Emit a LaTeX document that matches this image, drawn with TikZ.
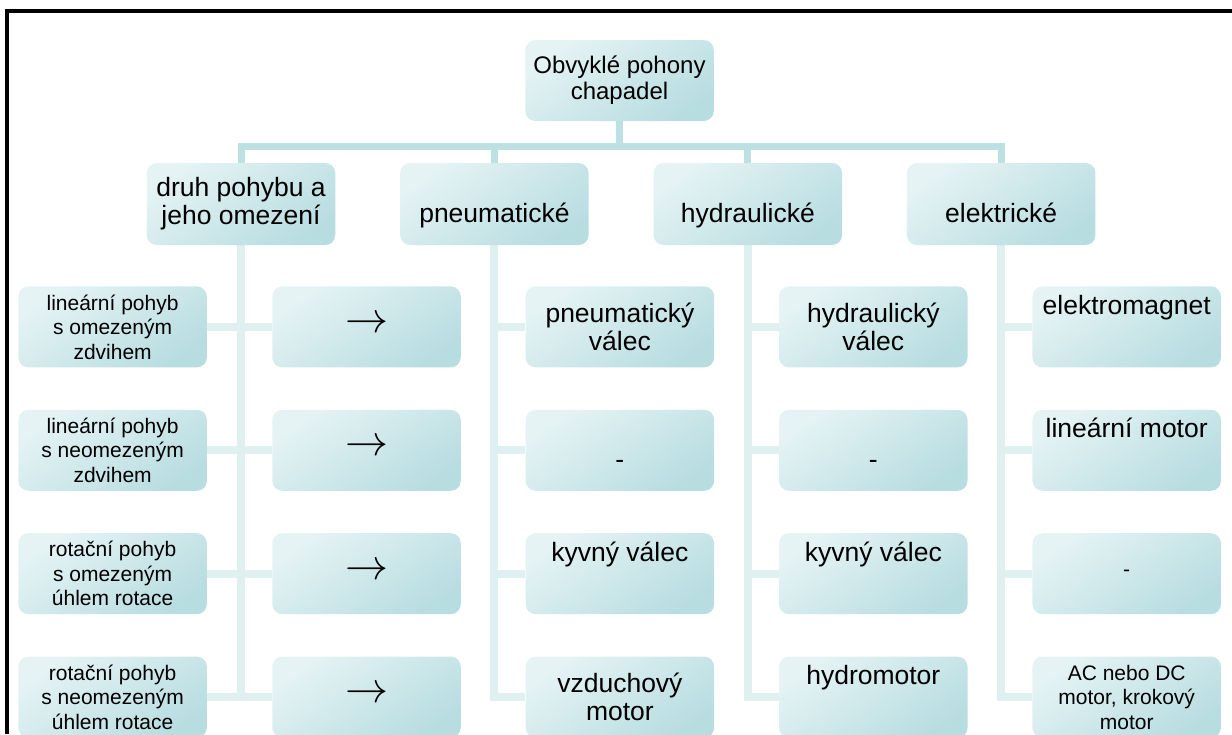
\documentclass[tikz,border=0pt]{standalone}
\usepackage{fontspec}
\setmainfont{Liberation Sans}
\usepackage{tikz}
\usetikzlibrary{positioning, backgrounds, calc}
\definecolor{barteal}{RGB}{189,224,227}
\definecolor{linkteal}{RGB}{223,240,241}
\definecolor{boxlight}{RGB}{229,243,244}
\definecolor{boxdark}{RGB}{184,221,225}
\tikzstyle{box} = [rectangle, rounded corners=10pt, minimum width=188.5pt, minimum height=81pt, align=center, inner sep=2pt, top color=boxlight, bottom color=boxdark, shading angle=35]
\tikzstyle{rootbox} = [box, font=\fontsize{24}{26}\selectfont]
\tikzstyle{catbox} = [box, minimum height=82pt, font=\fontsize{26.5}{28}\selectfont]
\tikzstyle{leafbox} = [box, font=\fontsize{26.5}{28}\selectfont]
\tikzstyle{notebox} = [box, font=\fontsize{21}{24.5}\selectfont]
\tikzstyle{arrowbox} = [box, font=\fontsize{10}{12}\selectfont, text height=11pt, text depth=0pt]
\tikzstyle{sunk} = [text height=36pt, text depth=0pt]
\tikzstyle{lifted} = [text height=8pt, text depth=33pt]
\tikzstyle{trunk} = [line width=7pt, draw=barteal]
\tikzstyle{branch} = [line width=8pt, draw=linkteal]
\newcommand{\bigto}{\scalebox{4.3}{$\rightarrow$}}

\begin{document}
\begin{tikzpicture}[x=1pt, y=-1pt, node distance=42pt]

\useasboundingbox (0,0) rectangle (1232,734);

\node (root) [rootbox] at (619.5,80.5) {Obvyklé pohony\\chapadel};

\node (druh) [catbox] at (241,204) {druh pohybu a\\jeho omezení};
\node (pneu) [catbox, sunk, right=64.5pt of druh] {pneumatické};
\node (hydr) [catbox, sunk, right=64.5pt of pneu] {hydraulické};
\node (elek) [catbox, sunk, right=64.5pt of hydr] {elektrické};

\node (ar1) [arrowbox, below=41pt of druh, xshift=125.5pt] {\bigto};
\node (ar2) [arrowbox, below=of ar1] {\bigto};
\node (ar3) [arrowbox, below=of ar2] {\bigto};
\node (ar4) [arrowbox, below=of ar3] {\bigto};

\node (lp1) [notebox, left=65pt of ar1] {lineární pohyb\\s omezeným\\zdvihem};
\node (lp2) [notebox, left=65pt of ar2] {lineární pohyb\\s neomezeným\\zdvihem};
\node (lp3) [notebox, left=65pt of ar3] {rotační pohyb\\s omezeným\\úhlem rotace};
\node (lp4) [notebox, left=65pt of ar4] {rotační pohyb\\s neomezeným\\úhlem rotace};

\node (pn1) [leafbox, below=41pt of pneu, xshift=125.5pt] {pneumatický\\válec};
\node (pn2) [leafbox, sunk, below=of pn1] {-};
\node (pn3) [leafbox, lifted, below=of pn2] {kyvný válec};
\node (pn4) [leafbox, below=of pn3] {vzduchový\\motor};

\node (hy1) [leafbox, below=41pt of hydr, xshift=125.5pt] {hydraulický\\válec};
\node (hy2) [leafbox, sunk, below=of hy1] {-};
\node (hy3) [leafbox, lifted, below=of hy2] {kyvný válec};
\node (hy4) [leafbox, lifted, below=of hy3] {hydromotor};

\node (el1) [leafbox, lifted, below=41pt of elek, xshift=125.5pt] {elektromagnet};
\node (el2) [leafbox, lifted, below=of el1] {lineární motor};
\node (el3) [notebox, below=of el2] {-};
\node (el4) [notebox, below=of el3] {AC nebo DC\\motor, krokový\\motor};

% connectors behind the boxes
\begin{scope}[on background layer]
\coordinate (hub) at ($(root.south)+(0,25.5)$);
\draw[trunk] (root.south) -- (hub);
\draw[trunk] (druh.north) |- (hub) -| (elek.north);
\draw[trunk] (pneu.north) -- (pneu.north |- hub);
\draw[trunk] (hydr.north) -- (hydr.north |- hub);

\draw[branch] (druh.south) -- (druh.south |- lp4.east);
\draw[branch] (lp1.east) -- (ar1.west);
\draw[branch] (lp2.east) -- (ar2.west);
\draw[branch] (lp3.east) -- (ar3.west);
\draw[branch] (lp4.east) -- (ar4.west);

\draw[branch] (pneu.south) |- (pn4.west);
\draw[branch] (pneu.south |- pn1.west) -- (pn1.west);
\draw[branch] (pneu.south |- pn2.west) -- (pn2.west);
\draw[branch] (pneu.south |- pn3.west) -- (pn3.west);

\draw[branch] (hydr.south) |- (hy4.west);
\draw[branch] (hydr.south |- hy1.west) -- (hy1.west);
\draw[branch] (hydr.south |- hy2.west) -- (hy2.west);
\draw[branch] (hydr.south |- hy3.west) -- (hy3.west);

\draw[branch] (elek.south) |- (el4.west);
\draw[branch] (elek.south |- el1.west) -- (el1.west);
\draw[branch] (elek.south |- el2.west) -- (el2.west);
\draw[branch] (elek.south |- el3.west) -- (el3.west);
\end{scope}

% Frame
\draw [line width=4pt] (7,734) -- (7,11) -- (1232,11);

\end{tikzpicture}
\end{document}
